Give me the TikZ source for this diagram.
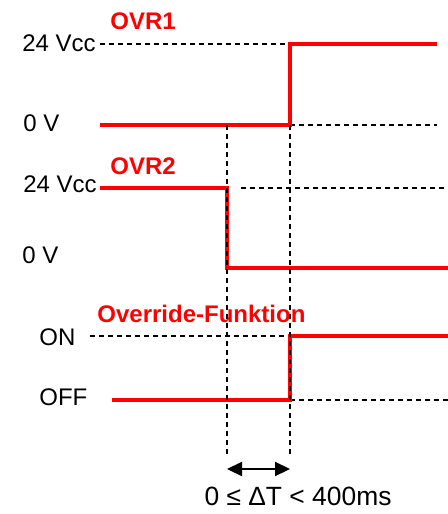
\documentclass[tikz,border=0pt]{standalone}
\usepackage{fontspec}
\setmainfont{Liberation Sans}
\usetikzlibrary{arrows.meta}
\definecolor{sigred}{HTML}{FF0000}
\tikzset{
  every picture/.style={x=0.5pt, y=-0.5pt, font=\fontsize{12}{14}\selectfont},
  signal/.style={draw=sigred, line width=2.2pt},
  guide/.style={draw=black, line width=0.75pt, dash pattern=on 2.5pt off 2pt},
  level/.style={anchor=west, inner sep=0pt},
  sigtitle/.style={anchor=west, inner sep=0pt, text=sigred, font=\fontsize{12}{14}\selectfont\bfseries},
  span/.style={{Triangle[length=7.5pt,width=7pt]}-{Triangle[length=7.5pt,width=7pt]}, line width=1.1pt},
}

\begin{document}
\begin{tikzpicture}
  \useasboundingbox (0,0) rectangle (448,514);
  % OVR1
  \node[sigtitle] (t1) at (110,21) {OVR1};
  \node[level] (h1) at (22,43) {24 Vcc};
  \node[level] (l1) at (23,123) {0 V};
  \coordinate (a0) at (100,125); \coordinate (a1) at (290,125);
  \coordinate (a2) at (290,44);  \coordinate (a3) at (437,44);
  \coordinate (a4) at (100,44);  \coordinate (a5) at (437,125);
  \draw[guide] (a4) -- (a2);
  \draw[guide] (a1) -- (a5);
  \draw[signal] (a0) -- (a1) -- (a2) -- (a3);
  % OVR2
  \node[sigtitle] (t2) at (110,166) {OVR2};
  \node[level] (h2) at (23,184) {24 Vcc};
  \node[level] (l2) at (22,255) {0 V};
  \coordinate (b0) at (100,188); \coordinate (b1) at (227,188);
  \coordinate (b2) at (227,268); \coordinate (b3) at (448,268);
  \coordinate (b4) at (241,188); \coordinate (b5) at (448,188);
  \draw[guide] (b4) -- (b5);
  \draw[signal] (b0) -- (b1) -- (b2) -- (b3);
  % Override-Funktion
  \node[sigtitle] (t3) at (97,314) {Override-Funktion};
  \node[level] (h3) at (39,337) {ON};
  \node[level] (l3) at (39,397) {OFF};
  \coordinate (c0) at (112,400); \coordinate (c1) at (290,400);
  \coordinate (c2) at (290,336); \coordinate (c3) at (448,336);
  \coordinate (c4) at (90,336);  \coordinate (c5) at (448,400);
  \draw[guide] (c4) -- (c2);
  \draw[guide] (c1) -- (c5);
  \draw[signal] (c0) -- (c1) -- (c2) -- (c3);
  % delay
  \coordinate (d0) at (227,125); \coordinate (d1) at (227,454);
  \coordinate (e0) at (290,125); \coordinate (e1) at (290,454);
  \draw[guide] (d0) -- (d1);
  \draw[guide] (e0) -- (e1);
  \coordinate (p0) at (227,469); \coordinate (p1) at (290,469);
  \draw[span] (p0) -- (p1);
  \node[font=\fontsize{13.2}{15}\selectfont] (dt) at (298,496) {0 ≤ ΔT < 400ms};
\end{tikzpicture}
\end{document}
